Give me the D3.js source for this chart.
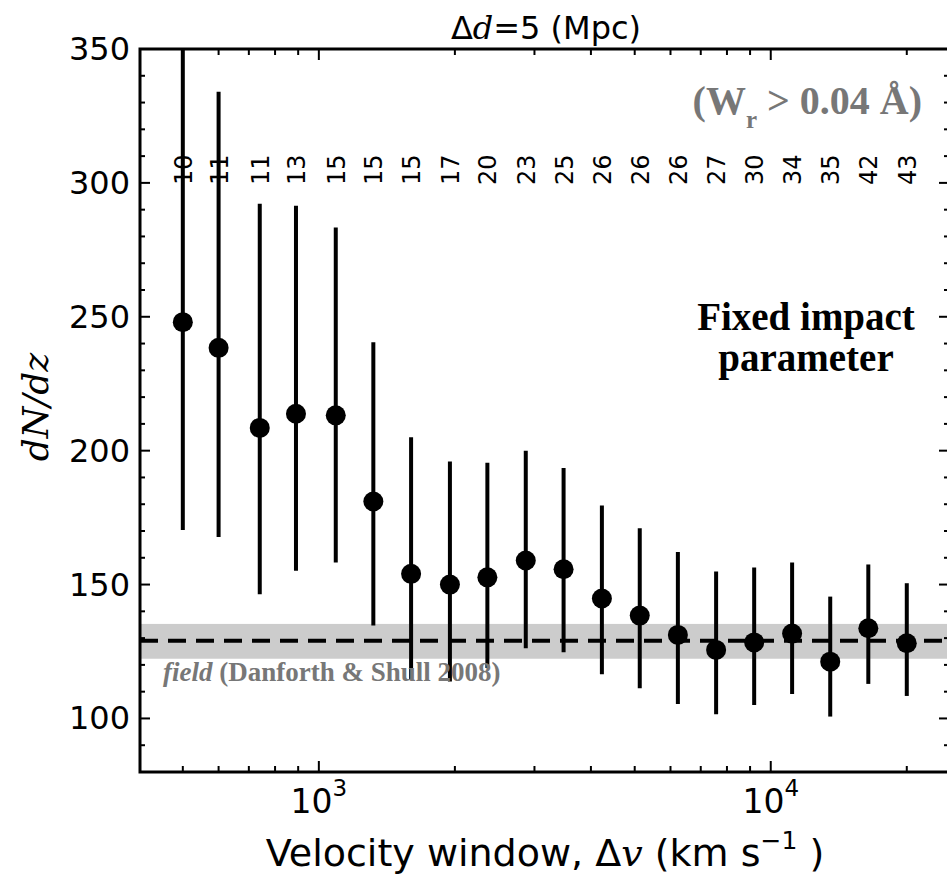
<!DOCTYPE html>
<html><head><meta charset="utf-8">
<script src="https://cdn.jsdelivr.net/npm/d3@7"></script>
<style>body{margin:0;background:#fff;} svg{display:block;}</style>
</head><body>
<svg id="chart" width="947" height="875"></svg>
<script>
// ---- data ----
const velocity = [500, 600, 740, 890, 1090, 1320, 1600, 1950, 2360, 2870, 3480, 4230, 5130, 6230, 7570, 9190, 11150, 13540, 16440, 20000];
const dNdz     = [248, 238.4, 208.5, 213.8, 213.2, 181, 154, 150, 152.7, 159, 155.7, 144.8, 138.4, 131.2, 125.6, 128.4, 131.7, 121.2, 133.7, 128.1];
const errHigh  = [365, 334, 292.2, 291.5, 283.3, 240.5, 205, 196, 195.5, 200, 193.5, 179.5, 171, 162.2, 154.9, 156.4, 158.2, 145.5, 157.5, 150.5];
const errLow   = [170.4, 167.8, 146.4, 155.2, 158.2, 134.7, 114.6, 113.8, 118.8, 126.2, 124.7, 116.5, 111.3, 105.4, 101.6, 105, 109.1, 100.7, 112.9, 108.4];
const counts   = ["10","11","11","13","15","15","15","17","20","23","25","26","26","26","27","30","34","35","42","43"];
const fieldValue = 129.0;
const fieldBand  = [122.3, 135.3];
const yTicks = [100, 150, 200, 250, 300, 350];
const xMajorTicks = [1000, 10000];

const svg = d3.select("#chart");
const L = 140, R = 949, T = 49, B = 772;
const x = d3.scaleLog().domain([402, 24800]).range([L, R]);
const y = d3.scaleLinear().domain([80, 350]).range([B, T]);

svg.append("defs").append("clipPath").attr("id","clip")
  .append("rect").attr("x",L).attr("y",T).attr("width",R-L).attr("height",B-T);

const plot = svg.append("g").attr("clip-path","url(#clip)");

// field band + dashed line
plot.append("rect").attr("x",L).attr("width",R-L)
  .attr("y",y(fieldBand[1])).attr("height",y(fieldBand[0])-y(fieldBand[1]))
  .attr("fill","#cccccc");
plot.append("line").attr("x1",L).attr("x2",R)
  .attr("y1",y(fieldValue)).attr("y2",y(fieldValue))
  .attr("stroke","#000").attr("stroke-width",4).attr("stroke-dasharray","18,10");

// field text
const ft = svg.append("text").attr("x",163).attr("y",681)
  .attr("font-family","'Liberation Serif', 'Times New Roman', serif")
  .attr("font-weight","bold").attr("font-size",27).attr("fill","#777");
ft.append("tspan").attr("font-style","italic").text("field");
ft.append("tspan").text(" (Danforth & Shull 2008)");

// error bars
const pts = velocity.map((v,i)=>({v, y:dNdz[i], hi:errHigh[i], lo:errLow[i], n:counts[i]}));
plot.selectAll("line.err").data(pts).enter().append("line").attr("class","err")
  .attr("x1",d=>x(d.v)).attr("x2",d=>x(d.v))
  .attr("y1",d=>y(d.hi)).attr("y2",d=>y(d.lo))
  .attr("stroke","#000").attr("stroke-width",4);
plot.selectAll("circle.pt").data(pts).enter().append("circle").attr("class","pt")
  .attr("cx",d=>x(d.v)).attr("cy",d=>y(d.y)).attr("r",10).attr("fill","#000");

// count labels
svg.selectAll("text.cnt").data(pts).enter().append("text").attr("class","cnt")
  .attr("transform",d=>`translate(${x(d.v)+9},185) rotate(-90)`)
  .attr("font-family","'DejaVu Sans', sans-serif").attr("font-size",24)
  .attr("text-anchor","start").text(d=>d.n);

// axes ticks
const g = svg.append("g");
const minorY = d3.range(80, 351, 10).filter(v=>v%50!==0);
const minorX = [];
[100,1000,10000].forEach(dec=>{for(let k=2;k<=9;k++){const v=k*dec; if(v>402&&v<24800) minorX.push(v);}});
function tick(x1,y1,x2,y2){g.append("line").attr("x1",x1).attr("y1",y1).attr("x2",x2).attr("y2",y2).attr("stroke","#000").attr("stroke-width",2);}
yTicks.forEach(v=>{tick(L,y(v),L+10,y(v)); tick(R,y(v),R-10,y(v));});
minorY.forEach(v=>{tick(L,y(v),L+5,y(v)); tick(R,y(v),R-5,y(v));});
xMajorTicks.forEach(v=>{tick(x(v),B,x(v),B-11); tick(x(v),T,x(v),T+11);});
minorX.forEach(v=>{tick(x(v),B,x(v),B-6); tick(x(v),T,x(v),T+6);});

// spines
svg.append("rect").attr("x",L).attr("y",T).attr("width",R-L).attr("height",B-T)
  .attr("fill","none").attr("stroke","#000").attr("stroke-width",3);

// y tick labels
svg.selectAll("text.yt").data(yTicks).enter().append("text").attr("class","yt")
  .attr("x",130).attr("y",d=>y(d)+11).attr("text-anchor","end")
  .attr("font-family","'DejaVu Sans', sans-serif").attr("font-size",32).text(d=>d);

// x tick labels
xMajorTicks.forEach(v=>{
  const t = svg.append("text").attr("x",x(v)).attr("y",813).attr("text-anchor","middle")
    .attr("font-family","'DejaVu Sans', sans-serif").attr("font-size",33);
  t.append("tspan").text("10");
  t.append("tspan").attr("dy",-17).attr("font-size",23).text(Math.round(Math.log10(v)));
});

// x label
const xl = svg.append("text").attr("x",545).attr("y",866).attr("text-anchor","middle")
  .attr("font-family","'DejaVu Sans', sans-serif").attr("font-size",38);
xl.append("tspan").text("Velocity window, Δ");
xl.append("tspan").attr("font-family","'DejaVu Serif', serif").attr("font-style","italic").text("v");
xl.append("tspan").text(" (km s");
xl.append("tspan").attr("dy",-17).attr("font-size",25).text("−1");
xl.append("tspan").attr("dy",17).text(" )");

// y label
svg.append("text").attr("transform","translate(48,407) rotate(-90)").attr("text-anchor","middle")
  .attr("font-family","'DejaVu Serif', serif").attr("font-style","italic").attr("font-size",36)
  .text("dN/dz");

// title
const tt = svg.append("text").attr("x",546).attr("y",39).attr("text-anchor","middle")
  .attr("font-family","'DejaVu Sans', sans-serif").attr("font-size",32);
tt.append("tspan").text("Δ");
tt.append("tspan").attr("font-family","'DejaVu Serif', serif").attr("font-style","italic").text("d");
tt.append("tspan").text("=5 (Mpc)");

// W_r text
const wt = svg.append("text").attr("x",922).attr("y",114).attr("text-anchor","end")
  .attr("font-family","'Liberation Serif', 'Times New Roman', serif").attr("font-weight","bold")
  .attr("font-size",40).attr("fill","#777");
wt.append("tspan").text("(W");
wt.append("tspan").attr("dy",14).attr("font-size",25).text("r");
wt.append("tspan").attr("dy",-14).text(" > 0.04 Å)");

// Fixed impact parameter
const fx = svg.append("text").attr("text-anchor","middle")
  .attr("font-family","'Liberation Serif', 'Times New Roman', serif").attr("font-weight","bold")
  .attr("font-size",39).attr("fill","#000");
fx.append("tspan").attr("x",806).attr("y",330).text("Fixed impact");
fx.append("tspan").attr("x",806).attr("y",371).text("parameter");
</script>
</body></html>
